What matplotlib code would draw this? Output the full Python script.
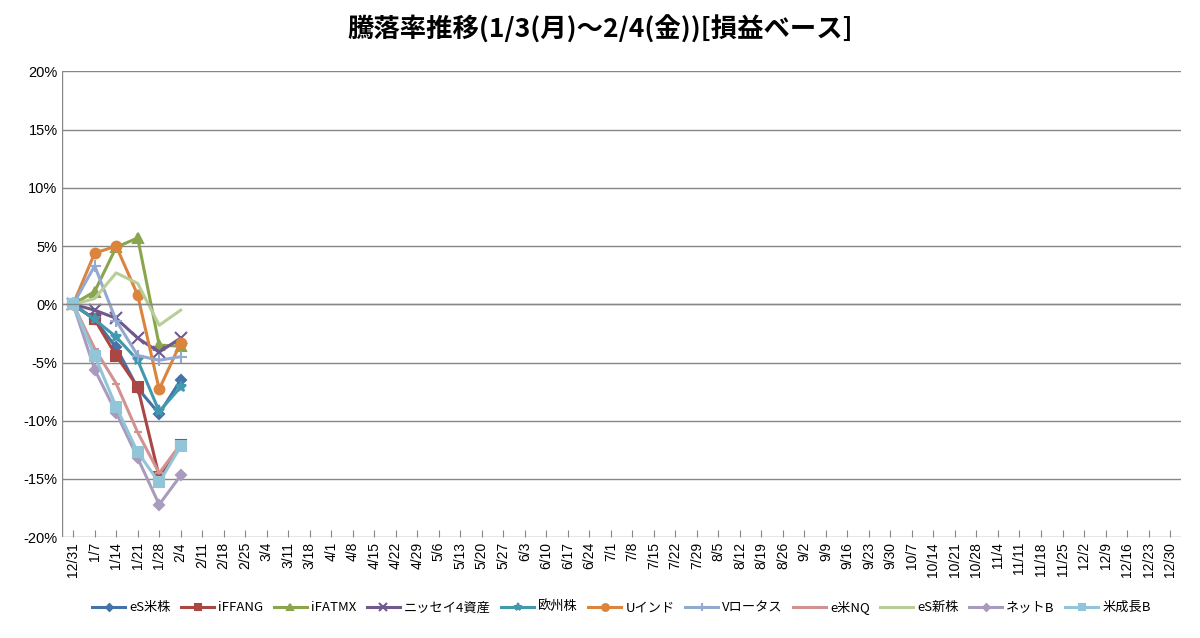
import matplotlib
matplotlib.use('Agg')
import matplotlib.pyplot as plt

plt.rcParams['font.family'] = ['Noto Sans CJK JP', 'DejaVu Sans']

labels = ['12/31', '1/7', '1/14', '1/21', '1/28', '2/4', '2/11', '2/18', '2/25', '3/4', '3/11', '3/18',
          '4/1', '4/8', '4/15', '4/22', '4/29', '5/6', '5/13', '5/20', '5/27', '6/3', '6/10', '6/17',
          '6/24', '7/1', '7/8', '7/15', '7/22', '7/29', '8/5', '8/12', '8/19', '8/26', '9/2', '9/9',
          '9/16', '9/23', '9/30', '10/7', '10/14', '10/21', '10/28', '11/4', '11/11', '11/18', '11/25',
          '12/2', '12/9', '12/16', '12/23', '12/30']

names = ['eS米株', 'iFFANG', 'iFATMX', 'ニッセイ4資産', '欧州株', 'Uインド', 'Vロータス', 'e米NQ', 'eS新株', 'ネットB', '米成長B']
es_us = [0, -1.3, -3.7, -7.2, -9.4, -6.5]
iffang = [0, -1.3, -4.4, -7.1, -14.8, -12.1]
ifatmx = [0, 1.1, 4.9, 5.7, -3.5, -3.6]
nissay = [0, -0.5, -1.2, -2.9, -4.1, -2.9]
europe = [0, -1.3, -2.8, -4.8, -9.2, -7.1]
uindia = [0, 4.4, 5.0, 0.8, -7.3, -3.3]
vlotus = [0, 3.3, -1.4, -4.4, -4.8, -4.5]
enq = [0, -3.8, -6.8, -11.0, -14.5, -12.0]
esnew = [0, 0.5, 2.7, 1.8, -1.8, -0.5]
netb = [0, -5.6, -9.3, -13.2, -17.2, -14.7]
growb = [0, -4.4, -8.8, -12.7, -15.3, -12.2]
series = [es_us, iffang, ifatmx, nissay, europe, uindia, vlotus, enq, esnew, netb, growb]
colors = ['#4572A7', '#AA4643', '#89A54E', '#71588F', '#4198AF', '#DB843D', '#93A9CF', '#D19392', '#B9CD96', '#A99BBD', '#92C5D8']
markers = ['D', 's', '^', 'x', '*', 'o', '+', '_', None, 'D', 's']
msizes = [5, 7, 7, 8, 8, 7, 9, 6, 0, 5, 7]

n = len(labels)
fig = plt.figure(figsize=(12, 6.38), dpi=100)
ax = fig.add_axes([0.052, 0.158, 0.932, 0.730])
x = list(range(n))
for s, nm, c, m, ms in zip(series, names, colors, markers, msizes):
    ax.plot(x[:len(s)], s, color=c, lw=2.2, marker=m, ms=ms, mew=1.5, label=nm)

ax.set_xlim(-0.5, n - 0.5)
ax.set_ylim(-20, 20)
ax.set_yticks(range(-20, 21, 5))
ax.set_yticklabels([f"{v}%" for v in range(-20, 21, 5)], fontsize=10.5, family=['Liberation Sans'])
ax.set_xticks(x)
ax.set_xticklabels(labels, rotation=90, fontsize=10, family=['Liberation Sans'])
ax.grid(axis='y', color='#878787', lw=1)
ax.set_axisbelow(True)
for sp in ['top', 'right', 'left', 'bottom']:
    ax.spines[sp].set_visible(False)
ax.axhline(0, color='#878787', lw=1)
ax.axvline(-0.5, color='#878787', lw=1)
ax.tick_params(axis='y', length=0)
ax.tick_params(axis='x', length=5, color='#878787', direction='in')
fig.suptitle('騰落率推移(1/3(月)～2/4(金))[損益ベース]', y=0.975, fontsize=19, fontweight='bold')
ax.legend(loc='upper center', bbox_to_anchor=(0.5, -0.11), ncol=11, frameon=False,
          fontsize=9.5, handlelength=2.5, columnspacing=0.8, handletextpad=0.3, markerscale=0.7)
fig.savefig('out.png')
